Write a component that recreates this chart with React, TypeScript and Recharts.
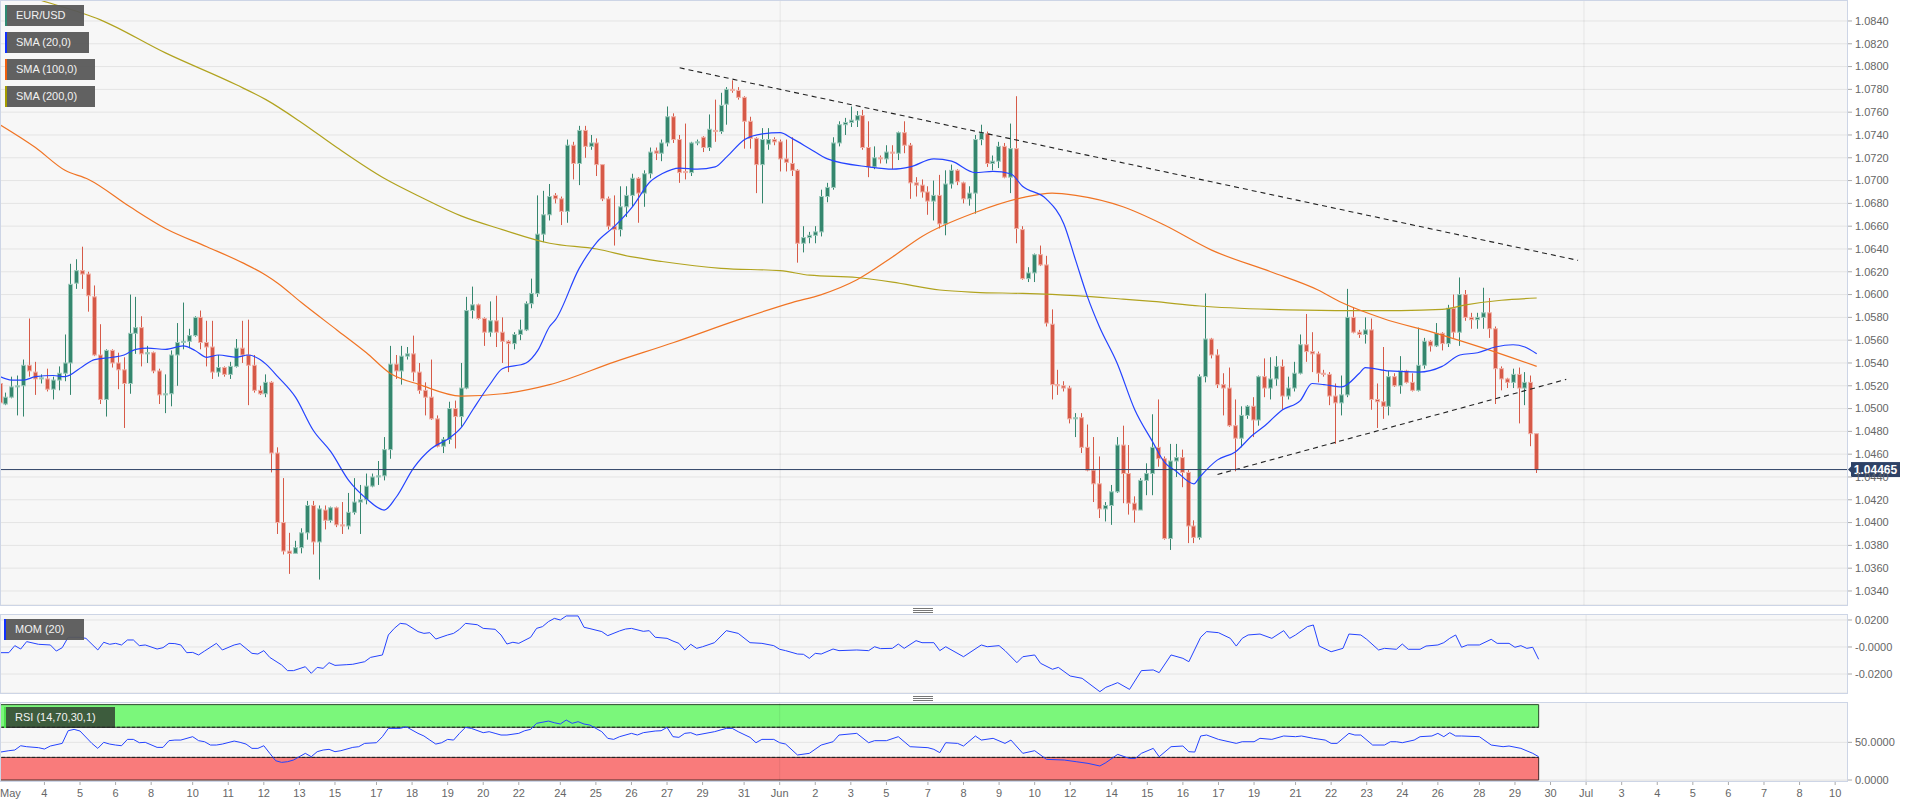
import React from "react";
import { ComposedChart, Bar, Line, XAxis, YAxis, CartesianGrid, ReferenceLine, ReferenceArea } from "recharts";

// EUR/USD 4h candles, May 3 - Jun 29
const opens = [
  1.0522, 1.0504, 1.0510, 1.0519, 1.0520, 1.0538, 1.0532, 1.0526, 1.0526, 1.0517,
  1.0525, 1.0531, 1.0540, 1.0610, 1.0621, 1.0618, 1.0598, 1.0547, 1.0508, 1.0551,
  1.0540, 1.0534, 1.0522, 1.0566, 1.0571, 1.0548, 1.0549, 1.0533, 1.0512, 1.0513,
  1.0547, 1.0558, 1.0559, 1.0564, 1.0580, 1.0558, 1.0554, 1.0532, 1.0536, 1.0530,
  1.0537, 1.0553, 1.0547, 1.0538, 1.0516, 1.0513, 1.0523, 1.0461, 1.0400, 1.0375,
  1.0373, 1.0378, 1.0391, 1.0415, 1.0383, 1.0411, 1.0402, 1.0413, 1.0398, 1.0397,
  1.0409, 1.0418, 1.0420, 1.0432, 1.0440, 1.0441, 1.0464, 1.0539, 1.0533, 1.0546,
  1.0548, 1.0532, 1.0516, 1.0510, 1.0491, 1.0467, 1.0473, 1.0500, 1.0493, 1.0518,
  1.0586, 1.0591, 1.0579, 1.0567, 1.0577, 1.0567, 1.0559, 1.0557, 1.0565, 1.0569,
  1.0592, 1.0601, 1.0653, 1.0670, 1.0687, 1.0684, 1.0673, 1.0731, 1.0715, 1.0744,
  1.0730, 1.0733, 1.0714, 1.0684, 1.0660, 1.0657, 1.0677, 1.0687, 1.0702, 1.0689,
  1.0706, 1.0726, 1.0724, 1.0733, 1.0756, 1.0736, 1.0708, 1.0707, 1.0733, 1.0738,
  1.0729, 1.0744, 1.0743, 1.0767, 1.0780, 1.0779, 1.0773, 1.0752, 1.0737, 1.0714,
  1.0732, 1.0736, 1.0734, 1.0719, 1.0715, 1.0709, 1.0645, 1.0650, 1.0652, 1.0655,
  1.0686, 1.0694, 1.0733, 1.0749, 1.0751, 1.0753, 1.0757, 1.0729, 1.0712, 1.0720,
  1.0719, 1.0725, 1.0724, 1.0742, 1.0731, 1.0698, 1.0696, 1.0690, 1.0682, 1.0687,
  1.0662, 1.0697, 1.0709, 1.0698, 1.0684, 1.0689, 1.0736, 1.0741, 1.0715, 1.0717,
  1.0730, 1.0703, 1.0728, 1.0657, 1.0614, 1.0619, 1.0635, 1.0626, 1.0574, 1.0521,
  1.0520, 1.0518, 1.0491, 1.0492, 1.0466, 1.0446, 1.0434, 1.0412, 1.0415, 1.0427,
  1.0468, 1.0443, 1.0417, 1.0411, 1.0437, 1.0443, 1.0466, 1.0456, 1.0386, 1.0454,
  1.0457, 1.0444, 1.0397, 1.0387, 1.0528, 1.0561, 1.0547, 1.0521, 1.0518, 1.0485,
  1.0474, 1.0494, 1.0502, 1.0490, 1.0528, 1.0518, 1.0526, 1.0537, 1.0511, 1.0518,
  1.0531, 1.0556, 1.0550, 1.0548, 1.0531, 1.0530, 1.0511, 1.0505, 1.0512, 1.0580,
  1.0567, 1.0565, 1.0569, 1.0508, 1.0506, 1.0502, 1.0528, 1.0520, 1.0533, 1.0523,
  1.0516, 1.0538, 1.0559, 1.0555, 1.0566, 1.0557, 1.0588, 1.0567, 1.0600, 1.0580,
  1.0578, 1.0580, 1.0584, 1.0570, 1.0535, 1.0526, 1.0523, 1.0530, 1.0518, 1.0523,
  1.0478,
];
const highs = [
  1.0526, 1.0514, 1.0528, 1.0529, 1.0543, 1.0579, 1.0541, 1.0530, 1.0535, 1.0528,
  1.0537, 1.0565, 1.0627, 1.0631, 1.0642, 1.0620, 1.0608, 1.0574, 1.0552, 1.0552,
  1.0549, 1.0545, 1.0600, 1.0598, 1.0581, 1.0555, 1.0550, 1.0535, 1.0530, 1.0551,
  1.0575, 1.0593, 1.0570, 1.0581, 1.0586, 1.0577, 1.0577, 1.0547, 1.0537, 1.0541,
  1.0561, 1.0577, 1.0578, 1.0547, 1.0520, 1.0530, 1.0524, 1.0466, 1.0439, 1.0391,
  1.0384, 1.0395, 1.0419, 1.0419, 1.0415, 1.0415, 1.0414, 1.0414, 1.0418, 1.0426,
  1.0439, 1.0433, 1.0443, 1.0443, 1.0454, 1.0475, 1.0555, 1.0547, 1.0555, 1.0554,
  1.0564, 1.0540, 1.0523, 1.0543, 1.0494, 1.0475, 1.0506, 1.0507, 1.0540, 1.0598,
  1.0607, 1.0592, 1.0580, 1.0594, 1.0599, 1.0580, 1.0560, 1.0567, 1.0578, 1.0594,
  1.0614, 1.0687, 1.0691, 1.0697, 1.0689, 1.0686, 1.0736, 1.0734, 1.0748, 1.0748,
  1.0740, 1.0737, 1.0714, 1.0686, 1.0687, 1.0695, 1.0695, 1.0706, 1.0703, 1.0709,
  1.0729, 1.0729, 1.0736, 1.0765, 1.0759, 1.0740, 1.0750, 1.0734, 1.0736, 1.0739,
  1.0758, 1.0771, 1.0777, 1.0782, 1.0788, 1.0782, 1.0774, 1.0756, 1.0738, 1.0746,
  1.0746, 1.0738, 1.0736, 1.0736, 1.0738, 1.0710, 1.0660, 1.0655, 1.0660, 1.0692,
  1.0698, 1.0738, 1.0752, 1.0755, 1.0765, 1.0761, 1.0762, 1.0752, 1.0730, 1.0722,
  1.0731, 1.0731, 1.0743, 1.0752, 1.0733, 1.0703, 1.0701, 1.0695, 1.0700, 1.0705,
  1.0709, 1.0714, 1.0710, 1.0699, 1.0695, 1.0740, 1.0749, 1.0743, 1.0722, 1.0734,
  1.0733, 1.0750, 1.0774, 1.0660, 1.0624, 1.0636, 1.0643, 1.0634, 1.0587, 1.0534,
  1.0524, 1.0520, 1.0496, 1.0496, 1.0486, 1.0475, 1.0458, 1.0418, 1.0433, 1.0475,
  1.0485, 1.0468, 1.0423, 1.0439, 1.0452, 1.0495, 1.0508, 1.0458, 1.0469, 1.0469,
  1.0464, 1.0446, 1.0402, 1.0530, 1.0601, 1.0562, 1.0552, 1.0531, 1.0536, 1.0508,
  1.0502, 1.0503, 1.0510, 1.0529, 1.0544, 1.0545, 1.0546, 1.0543, 1.0528, 1.0541,
  1.0565, 1.0583, 1.0567, 1.0550, 1.0534, 1.0532, 1.0522, 1.0529, 1.0605, 1.0589,
  1.0569, 1.0580, 1.0579, 1.0522, 1.0554, 1.0533, 1.0531, 1.0546, 1.0534, 1.0531,
  1.0571, 1.0562, 1.0560, 1.0575, 1.0567, 1.0591, 1.0600, 1.0615, 1.0604, 1.0584,
  1.0584, 1.0606, 1.0597, 1.0572, 1.0537, 1.0527, 1.0535, 1.0536, 1.0532, 1.0529,
  1.0478,
];
const lows = [
  1.0491, 1.0503, 1.0509, 1.0494, 1.0493, 1.0528, 1.0512, 1.0522, 1.0515, 1.0508,
  1.0516, 1.0524, 1.0512, 1.0605, 1.0605, 1.0585, 1.0546, 1.0504, 1.0493, 1.0536,
  1.0517, 1.0483, 1.0513, 1.0548, 1.0537, 1.0540, 1.0531, 1.0504, 1.0496, 1.0502,
  1.0520, 1.0552, 1.0553, 1.0563, 1.0552, 1.0537, 1.0526, 1.0528, 1.0528, 1.0526,
  1.0536, 1.0540, 1.0503, 1.0514, 1.0512, 1.0510, 1.0444, 1.0390, 1.0372, 1.0355,
  1.0373, 1.0373, 1.0385, 1.0372, 1.0350, 1.0394, 1.0400, 1.0396, 1.0390, 1.0394,
  1.0407, 1.0390, 1.0416, 1.0431, 1.0433, 1.0437, 1.0456, 1.0526, 1.0521, 1.0543,
  1.0524, 1.0513, 1.0494, 1.0490, 1.0466, 1.0461, 1.0469, 1.0465, 1.0484, 1.0517,
  1.0579, 1.0578, 1.0555, 1.0563, 1.0554, 1.0540, 1.0532, 1.0552, 1.0560, 1.0568,
  1.0588, 1.0598, 1.0646, 1.0665, 1.0680, 1.0661, 1.0663, 1.0701, 1.0696, 1.0720,
  1.0727, 1.0704, 1.0682, 1.0657, 1.0643, 1.0651, 1.0668, 1.0677, 1.0663, 1.0677,
  1.0702, 1.0718, 1.0717, 1.0730, 1.0733, 1.0698, 1.0701, 1.0704, 1.0731, 1.0725,
  1.0726, 1.0734, 1.0741, 1.0749, 1.0777, 1.0771, 1.0728, 1.0728, 1.0689, 1.0680,
  1.0727, 1.0731, 1.0708, 1.0708, 1.0704, 1.0628, 1.0637, 1.0645, 1.0645, 1.0651,
  1.0681, 1.0692, 1.0730, 1.0740, 1.0747, 1.0747, 1.0727, 1.0703, 1.0710, 1.0715,
  1.0715, 1.0710, 1.0718, 1.0724, 1.0684, 1.0686, 1.0685, 1.0670, 1.0665, 1.0658,
  1.0652, 1.0693, 1.0696, 1.0680, 1.0678, 1.0671, 1.0731, 1.0712, 1.0709, 1.0711,
  1.0702, 1.0689, 1.0645, 1.0613, 1.0611, 1.0611, 1.0625, 1.0572, 1.0508, 1.0512,
  1.0515, 1.0487, 1.0475, 1.0461, 1.0445, 1.0418, 1.0404, 1.0401, 1.0398, 1.0426,
  1.0417, 1.0407, 1.0400, 1.0411, 1.0424, 1.0424, 1.0449, 1.0385, 1.0376, 1.0440,
  1.0431, 1.0382, 1.0382, 1.0385, 1.0523, 1.0544, 1.0518, 1.0494, 1.0484, 1.0445,
  1.0466, 1.0491, 1.0475, 1.0485, 1.0510, 1.0508, 1.0520, 1.0499, 1.0508, 1.0515,
  1.0530, 1.0541, 1.0532, 1.0523, 1.0528, 1.0503, 1.0469, 1.0494, 1.0510, 1.0566,
  1.0562, 1.0557, 1.0499, 1.0483, 1.0491, 1.0494, 1.0519, 1.0513, 1.0522, 1.0515,
  1.0515, 1.0535, 1.0550, 1.0554, 1.0551, 1.0554, 1.0562, 1.0555, 1.0577, 1.0570,
  1.0570, 1.0570, 1.0562, 1.0504, 1.0516, 1.0518, 1.0518, 1.0487, 1.0503, 1.0467,
  1.04435,
];
const closes = [
  1.0505, 1.0510, 1.0519, 1.0520, 1.0538, 1.0533, 1.0526, 1.0527, 1.0517, 1.0525,
  1.0531, 1.0540, 1.0609, 1.0621, 1.0618, 1.0599, 1.0547, 1.0508, 1.0551, 1.0540,
  1.0534, 1.0522, 1.0566, 1.0571, 1.0548, 1.0549, 1.0533, 1.0512, 1.0513, 1.0547,
  1.0558, 1.0559, 1.0564, 1.0580, 1.0558, 1.0554, 1.0532, 1.0536, 1.0530, 1.0537,
  1.0553, 1.0547, 1.0538, 1.0516, 1.0513, 1.0523, 1.0461, 1.0400, 1.0375, 1.0373,
  1.0378, 1.0391, 1.0415, 1.0383, 1.0412, 1.0402, 1.0413, 1.0398, 1.0397, 1.0409,
  1.0418, 1.0420, 1.0432, 1.0440, 1.0441, 1.0464, 1.0539, 1.0533, 1.0546, 1.0548,
  1.0532, 1.0516, 1.0510, 1.0491, 1.0467, 1.0473, 1.0500, 1.0493, 1.0518, 1.0586,
  1.0591, 1.0579, 1.0567, 1.0577, 1.0567, 1.0559, 1.0557, 1.0565, 1.0569, 1.0592,
  1.0601, 1.0653, 1.0670, 1.0686, 1.0684, 1.0673, 1.0731, 1.0715, 1.0744, 1.0730,
  1.0733, 1.0714, 1.0684, 1.0660, 1.0657, 1.0677, 1.0687, 1.0702, 1.0689, 1.0706,
  1.0725, 1.0724, 1.0733, 1.0756, 1.0736, 1.0707, 1.0707, 1.0733, 1.0734, 1.0729,
  1.0745, 1.0743, 1.0766, 1.0780, 1.0779, 1.0773, 1.0752, 1.0737, 1.0714, 1.0736,
  1.0736, 1.0734, 1.0719, 1.0716, 1.0709, 1.0645, 1.0650, 1.0652, 1.0655, 1.0686,
  1.0694, 1.0733, 1.0749, 1.0751, 1.0753, 1.0757, 1.0729, 1.0712, 1.0720, 1.0719,
  1.0725, 1.0724, 1.0742, 1.0731, 1.0698, 1.0696, 1.0690, 1.0682, 1.0687, 1.0662,
  1.0697, 1.0709, 1.0699, 1.0684, 1.0689, 1.0736, 1.0742, 1.0715, 1.0717, 1.0730,
  1.0703, 1.0728, 1.0658, 1.0614, 1.0619, 1.0635, 1.0626, 1.0575, 1.0521, 1.0520,
  1.0518, 1.0491, 1.0492, 1.0466, 1.0446, 1.0434, 1.0412, 1.0415, 1.0427, 1.0468,
  1.0443, 1.0417, 1.0411, 1.0437, 1.0443, 1.0466, 1.0456, 1.0386, 1.0454, 1.0457,
  1.0444, 1.0397, 1.0387, 1.0528, 1.0561, 1.0547, 1.0521, 1.0518, 1.0485, 1.0474,
  1.0494, 1.0502, 1.0490, 1.0528, 1.0518, 1.0526, 1.0537, 1.0511, 1.0518, 1.0531,
  1.0556, 1.0550, 1.0548, 1.0531, 1.0530, 1.0511, 1.0505, 1.0512, 1.0580, 1.0567,
  1.0565, 1.0569, 1.0508, 1.0506, 1.0502, 1.0528, 1.0520, 1.0533, 1.0523, 1.0516,
  1.0538, 1.0559, 1.0555, 1.0566, 1.0557, 1.0588, 1.0567, 1.0600, 1.0580, 1.0578,
  1.0580, 1.0584, 1.0570, 1.0535, 1.0526, 1.0523, 1.0530, 1.0518, 1.0523, 1.0478,
  1.04465,
];

// moving averages: [candle index, value]
const sma20Pts = [
  [0, 1.0528], [2, 1.0525], [4, 1.0525], [6, 1.0528], [9, 1.0529], [11, 1.0528], [14, 1.0537], [16, 1.0543],
  [19, 1.0545], [21, 1.0547], [23, 1.0552], [25, 1.0553], [28, 1.0552], [31, 1.0555], [33, 1.0551], [35, 1.0545],
  [37, 1.0547], [40, 1.0545], [42, 1.0547], [44, 1.0543], [45, 1.0539], [47, 1.0528], [50, 1.0510], [53, 1.0481],
  [56, 1.0462], [59, 1.0437], [62, 1.0421], [65, 1.0411], [67, 1.0422], [70, 1.0448], [73, 1.0465], [76, 1.0474],
  [78, 1.0483], [80, 1.0499], [83, 1.0522], [85, 1.0535], [89, 1.0540], [91, 1.0551], [93, 1.0572], [94, 1.0578],
  [98, 1.0623], [101, 1.0646], [104, 1.0660], [107, 1.0677], [110, 1.0699], [112, 1.0706], [115, 1.0711], [118, 1.0710],
  [121, 1.0712], [123, 1.0721], [126, 1.0736], [129, 1.0741], [132, 1.0742], [134, 1.0737], [137, 1.0728], [140, 1.0719],
  [147, 1.0712], [151, 1.0710], [154, 1.0712], [158, 1.0719], [161, 1.0717], [165, 1.0707], [168, 1.0708], [171, 1.0706],
  [173, 1.0695], [177, 1.0684], [180, 1.0662], [182, 1.0630], [184, 1.0598], [186, 1.0572], [189, 1.0540], [192, 1.0499],
  [195, 1.0471], [197, 1.0453], [199, 1.0445], [202, 1.0434], [203, 1.0440], [206, 1.0455], [209, 1.0462], [212, 1.0477],
  [214, 1.0485], [217, 1.0499], [220, 1.0507], [222, 1.0522], [224, 1.0521], [227, 1.0519], [230, 1.0531], [231, 1.0536],
  [235, 1.0533], [240, 1.0532], [244, 1.0537], [247, 1.0547], [250, 1.0549], [253, 1.0554], [256, 1.0556], [258, 1.0554],
  [260, 1.0548],
];
const sma100Pts = [
  [0, 1.0749], [6, 1.0729], [11, 1.0709], [15, 1.0701], [22, 1.0677], [28, 1.0658], [35, 1.0642], [41, 1.0628],
  [45, 1.0617], [47, 1.0610], [51, 1.0593], [57, 1.0569], [62, 1.0549], [66, 1.0531], [71, 1.0521], [78, 1.0511],
  [85, 1.0513], [93, 1.0521], [104, 1.0541], [114, 1.0558], [125, 1.0578], [134, 1.0593], [139, 1.0600], [145, 1.0613],
  [151, 1.0633], [156, 1.0651], [165, 1.0672], [173, 1.0685], [178, 1.0689], [182, 1.0687], [190, 1.0677], [197, 1.0661],
  [205, 1.0639], [215, 1.0620], [223, 1.0604], [227, 1.0593], [234, 1.0579], [243, 1.0566], [251, 1.0553], [260, 1.0537],
];
const sma200Pts = [
  [0, 1.0869], [7, 1.0858], [17, 1.0841], [28, 1.0812], [40, 1.0784], [45, 1.0771], [51, 1.0751], [57, 1.0729],
  [65, 1.0702], [71, 1.0686], [78, 1.0669], [85, 1.0657], [93, 1.0645], [101, 1.0640], [107, 1.0633], [112, 1.0629],
  [122, 1.0623], [132, 1.0621], [137, 1.0617], [145, 1.0615], [151, 1.0611], [159, 1.0604], [165, 1.0602], [173, 1.0601],
  [182, 1.0599], [190, 1.0596], [195, 1.0594], [203, 1.0590], [215, 1.0587], [226, 1.0586], [237, 1.0586], [244, 1.0587],
  [248, 1.0591], [254, 1.0595], [260, 1.0597],
];

// MOM (20)
const momPts = [
  [0, -0.0042], [2, -0.0042], [3, 0.0010], [4, -0.0015], [5, 0.0040], [7, 0.0020], [9, 0.0015], [10, -0.0030],
  [11, -0.0005], [12, 0.0072], [14, 0.0072], [15, 0.0064], [17, -0.0022], [18, 0.0035], [19, 0.0020], [20, 0.0027],
  [21, 0.0015], [22, 0.0052], [23, 0.0052], [24, 0.0010], [25, 0.0015], [27, -0.0015], [28, -0.0005], [29, 0.0027],
  [30, 0.0025], [31, 0.0015], [32, -0.0042], [33, -0.0040], [34, -0.0059], [35, -0.0030], [37, 0.0027], [38, -0.0022],
  [40, 0.0015], [41, 0.0025], [43, -0.0047], [44, -0.0052], [45, -0.0027], [46, -0.0077], [48, -0.0133], [49, -0.0175],
  [50, -0.0175], [52, -0.0146], [53, -0.0195], [54, -0.0151], [55, -0.0158], [56, -0.0116], [57, -0.0136], [59, -0.0131],
  [60, -0.0128], [62, -0.0109], [63, -0.0077], [65, -0.0059], [66, 0.0089], [67, 0.0138], [68, 0.0175], [69, 0.0170],
  [71, 0.0114], [72, 0.0101], [73, 0.0106], [74, 0.0059], [76, 0.0089], [77, 0.0101], [78, 0.0131], [79, 0.0175],
  [81, 0.0165], [82, 0.0138], [84, 0.0131], [85, 0.0089], [86, 0.0022], [87, 0.0035], [88, 0.0027], [90, 0.0072],
  [91, 0.0138], [92, 0.0151], [93, 0.0188], [94, 0.0212], [95, 0.0200], [96, 0.0230], [98, 0.0230], [99, 0.0146],
  [100, 0.0136], [102, 0.0114], [103, 0.0084], [105, 0.0119], [106, 0.0133], [107, 0.0138], [109, 0.0116], [110, 0.0121],
  [111, 0.0072], [113, 0.0064], [114, 0.0044], [115, 0.0027], [116, -0.0022], [117, 0.0020], [118, -0.0010], [119, 0.0002],
  [121, 0.0032], [123, 0.0121], [125, 0.0101], [127, 0.0032], [129, 0.0027], [131, 0.0010], [132, -0.0017], [133, -0.0027],
  [135, -0.0052], [136, -0.0054], [137, -0.0084], [138, -0.0047], [139, -0.0052], [141, -0.0015], [142, -0.0027], [145, -0.0022],
  [147, -0.0027], [148, 0.0002], [149, -0.0012], [151, -0.0010], [152, 0.0022], [153, -0.0010], [155, 0.0047], [156, 0.0032],
  [158, 0.0032], [159, -0.0027], [160, 0.0002], [163, -0.0072], [166, 0.0015], [167, 0.0002], [169, 0.0010], [170, -0.0027],
  [172, -0.0116], [173, -0.0072], [175, -0.0059], [176, -0.0121], [178, -0.0165], [179, -0.0151], [181, -0.0215], [183, -0.0232],
  [186, -0.0331], [187, -0.0299], [188, -0.0282], [189, -0.0264], [191, -0.0314], [193, -0.0175], [195, -0.0170], [196, -0.0190],
  [198, -0.0059], [200, -0.0084], [201, -0.0109], [203, 0.0072], [204, 0.0114], [206, 0.0106], [208, 0.0064], [209, 0.0007],
  [210, 0.0064], [211, 0.0089], [213, 0.0096], [215, 0.0064], [217, 0.0121], [218, 0.0064], [219, 0.0089], [221, 0.0151],
  [222, 0.0163], [223, 0.0007], [225, -0.0035], [227, -0.0010], [228, 0.0096], [230, 0.0089], [231, 0.0057], [233, -0.0022],
  [234, -0.0010], [236, -0.0017], [237, 0.0022], [238, -0.0017], [240, -0.0017], [241, 0.0007], [243, 0.0015], [244, 0.0032],
  [245, 0.0064], [246, 0.0089], [247, -0.0002], [248, 0.0015], [250, 0.0015], [252, 0.0057], [253, 0.0027], [255, 0.0027],
  [256, -0.0002], [257, 0.0010], [258, -0.0010], [259, -0.0002], [260, -0.0091],
];

// RSI (14,70,30,1)
const rsiPts = [
  [0, 36.3], [2, 38.9], [3, 39.8], [4, 45.5], [5, 44.2], [7, 42.9], [8, 41.1], [9, 45.1], [11, 48.6], [12, 65.4],
  [13, 67.2], [14, 65.0], [16, 48.6], [17, 42.0], [18, 50.0], [19, 47.7], [20, 46.4], [21, 45.5], [22, 53.9], [23, 53.9],
  [24, 49.5], [25, 50.0], [27, 43.3], [28, 43.3], [29, 52.2], [30, 53.0], [31, 53.0], [33, 57.5], [34, 52.2], [35, 50.8],
  [36, 46.4], [37, 46.4], [38, 47.7], [40, 51.7], [41, 50.0], [42, 47.7], [43, 42.0], [44, 42.0], [45, 45.5], [46, 35.4],
  [47, 25.6], [48, 23.4], [49, 24.3], [50, 26.5], [52, 35.4], [53, 30.9], [54, 37.6], [55, 39.8], [56, 40.7], [57, 37.6],
  [58, 38.9], [60, 43.3], [61, 44.2], [62, 48.6], [64, 49.5], [65, 57.5], [66, 68.5], [68, 68.5], [69, 70.7], [71, 61.9],
  [72, 58.4], [73, 53.0], [74, 47.7], [75, 49.5], [76, 53.9], [77, 53.0], [78, 61.9], [79, 69.8], [80, 68.5], [82, 62.8],
  [83, 64.1], [84, 61.9], [85, 59.7], [86, 59.7], [88, 61.9], [89, 65.4], [90, 67.2], [91, 75.2], [93, 78.2], [94, 76.0],
  [95, 74.3], [96, 79.6], [97, 75.2], [98, 77.4], [99, 74.3], [100, 72.9], [102, 64.1], [103, 55.3], [104, 53.9], [105, 57.5],
  [107, 61.9], [108, 59.7], [109, 62.8], [111, 65.0], [112, 65.4], [113, 69.8], [114, 57.5], [115, 56.6], [116, 61.9], [117, 62.8],
  [118, 59.7], [121, 64.1], [123, 68.5], [124, 68.5], [125, 64.1], [127, 56.6], [128, 49.5], [129, 53.9], [131, 53.9], [132, 49.5],
  [133, 47.7], [135, 33.2], [137, 35.4], [139, 46.4], [141, 50.8], [142, 59.7], [145, 61.9], [147, 49.5], [148, 52.2], [150, 52.2],
  [152, 57.5], [154, 44.2], [157, 42.9], [158, 40.7], [159, 36.3], [160, 49.5], [162, 48.6], [163, 45.1], [165, 58.4], [166, 53.0],
  [168, 55.3], [170, 48.6], [171, 53.0], [173, 35.4], [175, 38.9], [177, 27.4], [180, 26.5], [182, 24.3], [184, 22.1], [186, 18.6],
  [187, 23.0], [189, 34.0], [191, 28.7], [192, 28.7], [193, 35.4], [195, 42.0], [196, 30.9], [198, 44.2], [200, 45.1], [201, 37.6],
  [202, 37.1], [203, 58.4], [204, 59.7], [206, 53.9], [209, 48.6], [210, 50.8], [212, 50.8], [213, 55.3], [215, 53.9], [217, 58.4],
  [219, 57.5], [220, 58.4], [222, 55.3], [224, 53.0], [225, 48.6], [226, 48.6], [228, 61.9], [229, 59.7], [230, 59.7], [232, 46.4],
  [234, 46.4], [235, 50.8], [236, 50.8], [237, 49.5], [239, 53.0], [240, 57.5], [242, 58.4], [243, 61.9], [244, 57.5], [245, 62.8],
  [246, 58.4], [247, 58.4], [250, 57.5], [252, 46.4], [254, 44.2], [255, 45.1], [257, 42.0], [259, 35.4], [260, 30.9],
];
const rsiBandEnd = 260;

// x-axis day labels, placed on candle slots
const xTickIdx = [
  0, 8, 14, 20, 26, 33, 39, 45, 51, 57, 64, 70, 76, 82, 88, 95, 101, 107, 113, 119, 126,
  132, 138, 144, 150, 157, 163, 169, 175, 181, 188, 194, 200, 206, 212, 219, 225, 231, 237, 243, 250, 256, 262,
  268, 274, 280, 286, 292, 298, 304, 310,
];
const xTickLabels = [
  "May", "4", "5", "6", "8", "10", "11", "12", "13", "15", "17", "18", "19", "20", "22", "24", "25", "26", "27", "29", "31",
  "Jun", "2", "3", "5", "7", "8", "9", "10", "12", "14", "15", "16", "17", "19", "21", "22", "23", "24", "26", "28", "29", "30",
  "Jul", "3", "4", "5", "6", "7", "8", "10",
];
const monthLines = [132, 268];

const priceTicks = [
  1.084, 1.082, 1.08, 1.078, 1.076, 1.074, 1.072, 1.07, 1.068, 1.066, 1.064, 1.062, 1.06,
  1.058, 1.056, 1.054, 1.052, 1.05, 1.048, 1.046, 1.044, 1.042, 1.04, 1.038, 1.036, 1.034,
];
const momTicks = [0.02, 0, -0.02];
const momTickLabels = ["0.0200", "-0.0000", "-0.0200"];
const rsiTicks = [0, 50];
const rsiTickLabels = ["0.0000", "50.0000"];

const lastPrice = 1.04465;
const trendDown = [[115, 1.07989], [267, 1.063]];
const trendUp = [[206, 1.04422], [265, 1.05256]];

const SLOTS = 313;
const UP = "#35866e";
const DOWN = "#d65a48";
const NAVY = "#2e4266";
const GRID = "#e4e4e4";
const BORDER = "#cdd5e6";
const PLOT_BG = "#f7f7f7";

const rows: any[] = Array.from({ length: SLOTS }, (_, i) => {
  const has = i < closes.length;
  return {
    i,
    o: has ? opens[i] : null,
    h: has ? highs[i] : null,
    l: has ? lows[i] : null,
    c: has ? closes[i] : null,
    hl: has ? [lows[i], highs[i]] : null,
  };
});
const put = (pts: number[][], key: string) => pts.forEach(([k, v]) => { rows[k][key] = v; });
put(sma20Pts, "sma20");
put(sma100Pts, "sma100");
put(sma200Pts, "sma200");
put(momPts, "mom");
put(rsiPts, "rsi");

const Candle = (props: any) => {
  const { x, y, width, height } = props;
  const d = props.payload ?? props;
  if (!d || d.o == null || !isFinite(y) || !isFinite(height)) return <g />;
  const top = Math.min(y, y + height);
  const bot = Math.max(y, y + height);
  const span = d.h - d.l;
  const py = (v: number) => (span > 0 ? top + ((d.h - v) / span) * (bot - top) : top);
  const up = d.c >= d.o;
  const col = up ? UP : DOWN;
  const edge = up ? "#9fcbbd" : "#f0b2a8";
  const cx = Math.round(x + width / 2) + 0.5;
  const bTop = py(Math.max(d.o, d.c));
  const bBot = py(Math.min(d.o, d.c));
  return (
    <g>
      <line x1={cx} x2={cx} y1={top} y2={bot} stroke={col} strokeWidth={1} />
      <rect x={cx - 2} y={bTop} width={4} height={Math.max(1, bBot - bTop)} fill={col} stroke={edge} strokeWidth={1} />
    </g>
  );
};

const PriceTag = (props: any) => {
  const vb = props.viewBox || {};
  const x = vb.x + vb.width;
  const y = vb.y;
  return (
    <g>
      <polygon points={`${x + 1},${y} ${x + 5},${y - 4} ${x + 5},${y + 4}`} fill={NAVY} />
      <rect x={x + 4} y={y - 7.5} width={49} height={15} fill={NAVY} />
      <text x={x + 28.5} y={y + 4.5} textAnchor="middle" fill="#fff" fontSize={12} fontWeight="bold">
        {lastPrice.toFixed(5)}
      </text>
    </g>
  );
};

const DayTick = (props: any) => {
  const { x, y, payload } = props;
  const k = xTickIdx.indexOf(payload.value);
  if (k < 0) return <g />;
  const first = k === 0;
  return (
    <g>
      <line x1={x} x2={x} y1={y} y2={y + 4} stroke="#aaa" />
      <text x={first ? x + 3 : x} y={y + 16} textAnchor={first ? "start" : "middle"} fill="#666" fontSize={11}>
        {xTickLabels[k]}
      </text>
    </g>
  );
};

const Tag = ({ top, left, width, label, stripe, bg }: any) => (
  <div
    style={{
      position: "absolute", top, left, width, height: 21, background: bg || "rgba(88,88,88,0.95)",
      borderLeft: `2px solid ${stripe}`, boxSizing: "border-box", color: "#f2f2f2", fontSize: 11,
      lineHeight: "21px", paddingLeft: 9, whiteSpace: "nowrap", zIndex: 5,
    }}
  >
    {label}
  </div>
);

const Handle = ({ top }: { top: number }) => (
  <div style={{ position: "absolute", left: 913, top, width: 20, height: 5, zIndex: 5 }}>
    {[0, 2, 4].map((d) => (
      <div key={d} style={{ position: "absolute", left: 0, top: d, width: 20, height: 1, background: "#777" }} />
    ))}
  </div>
);

const CHART_W = 1921;
const AXIS_W = 71;
const yTick = { fill: "#666", fontSize: 11 };

const App: React.FC = () => {
  const pane = (top: number, height: number) => (
    <>
      <div style={{ position: "absolute", left: 0, top, width: 1847, height, background: PLOT_BG }} />
      <div style={{ position: "absolute", left: 0, top, width: 1848, height: height + 1, border: `1px solid ${BORDER}`, boxSizing: "border-box", zIndex: 4 }} />
    </>
  );

  return (
    <div
      style={{
        position: "absolute", left: 0, top: 0, width: 1918, height: 807, overflow: "hidden",
        background: "#fff", fontFamily: "'Liberation Sans', Arial, sans-serif",
      }}
    >
      {pane(0, 605)}
      {pane(614, 79)}
      {pane(702, 79)}
      <Handle top={608} />
      <Handle top={696} />

      {/* price pane */}
      <div style={{ position: "absolute", left: -3, top: 0, zIndex: 2 }}>
        <ComposedChart width={CHART_W} height={605} data={rows} margin={{ top: 0, right: 0, bottom: 0, left: 0 }}>
          <CartesianGrid vertical={false} stroke={GRID} />
          <XAxis dataKey="i" hide />
          <YAxis
            orientation="right" width={AXIS_W} domain={[1.03277, 1.08584]} ticks={priceTicks} allowDataOverflow
            interval={0} axisLine={false} tickLine={{ stroke: "#aaa" }} tickSize={5} tickMargin={3} tick={yTick}
            tickFormatter={(v: number) => v.toFixed(4)}
          />
          {monthLines.map((m) => (
            <ReferenceLine key={m} x={m} stroke="#000" strokeOpacity={0.07} />
          ))}
          <Bar dataKey="hl" barSize={5} shape={(p: any) => <Candle {...p} />} isAnimationActive={false} />
          <Line dataKey="sma200" type="monotone" stroke="#b1a31f" strokeWidth={1.2} dot={false} activeDot={false} connectNulls isAnimationActive={false} />
          <Line dataKey="sma100" type="monotone" stroke="#f07424" strokeWidth={1.2} dot={false} activeDot={false} connectNulls isAnimationActive={false} />
          <Line dataKey="sma20" type="monotone" stroke="#2443ff" strokeWidth={1.2} dot={false} activeDot={false} connectNulls isAnimationActive={false} />
          <ReferenceLine
            segment={[{ x: trendDown[0][0], y: trendDown[0][1] }, { x: trendDown[1][0], y: trendDown[1][1] }]}
            stroke="#222" strokeDasharray="5 4" strokeWidth={1.1} ifOverflow="visible"
          />
          <ReferenceLine
            segment={[{ x: trendUp[0][0], y: trendUp[0][1] }, { x: trendUp[1][0], y: trendUp[1][1] }]}
            stroke="#222" strokeDasharray="5 4" strokeWidth={1.1} ifOverflow="visible"
          />
          <ReferenceLine y={lastPrice} stroke={NAVY} strokeWidth={1} label={PriceTag} />
        </ComposedChart>
      </div>

      {/* momentum pane */}
      <div style={{ position: "absolute", left: -3, top: 614, zIndex: 2 }}>
        <ComposedChart width={CHART_W} height={79} data={rows} margin={{ top: 0, right: 0, bottom: 0, left: 0 }}>
          <CartesianGrid vertical={false} stroke={GRID} />
          <XAxis dataKey="i" hide />
          <YAxis
            orientation="right" width={AXIS_W} domain={[-0.03407, 0.02444]} ticks={momTicks} allowDataOverflow
            interval={0} axisLine={false} tickLine={{ stroke: "#aaa" }} tickSize={5} tickMargin={3} tick={yTick}
            tickFormatter={(v: number) => momTickLabels[momTicks.indexOf(v)] ?? ""}
          />
          {monthLines.map((m) => (
            <ReferenceLine key={m} x={m} stroke="#000" strokeOpacity={0.07} />
          ))}
          <Line dataKey="mom" type="linear" stroke="#2443ff" strokeWidth={1} dot={false} activeDot={false} connectNulls isAnimationActive={false} />
        </ComposedChart>
      </div>

      {/* RSI pane */}
      <div style={{ position: "absolute", left: -3, top: 702, zIndex: 2 }}>
        <ComposedChart width={CHART_W} height={105} data={rows} margin={{ top: 0, right: 0, bottom: 0, left: 0 }}>
          <CartesianGrid vertical={false} stroke={GRID} />
          <XAxis
            dataKey="i" height={26} interval={0} axisLine={false} tickLine={false} tickSize={0} tickMargin={0}
            tick={(p: any) => <DayTick {...p} />}
          />
          <YAxis
            orientation="right" width={AXIS_W} domain={[-1.3, 103.5]} ticks={rsiTicks} allowDataOverflow
            interval={0} axisLine={false} tickLine={{ stroke: "#aaa" }} tickSize={5} tickMargin={3} tick={yTick}
            tickFormatter={(v: number) => rsiTickLabels[rsiTicks.indexOf(v)] ?? ""}
          />
          <ReferenceArea x1={0} x2={rsiBandEnd} y1={70} y2={100} fill="#7bf77b" fillOpacity={1} stroke="#2a4a2a" strokeWidth={1} />
          <ReferenceArea x1={0} x2={rsiBandEnd} y1={0} y2={30} fill="#f97b7b" fillOpacity={1} stroke="#4a2a2a" strokeWidth={1} />
          {monthLines.map((m) => (
            <ReferenceLine key={m} x={m} stroke="#000" strokeOpacity={0.07} />
          ))}
          <ReferenceLine segment={[{ x: 0, y: 70 }, { x: rsiBandEnd, y: 70 }]} stroke="#222" strokeDasharray="3 2" ifOverflow="visible" />
          <ReferenceLine segment={[{ x: 0, y: 30 }, { x: rsiBandEnd, y: 30 }]} stroke="#222" strokeDasharray="3 2" ifOverflow="visible" />
          <Line dataKey="rsi" type="linear" stroke="#2443ff" strokeWidth={1} dot={false} activeDot={false} connectNulls isAnimationActive={false} />
        </ComposedChart>
      </div>

      <Tag top={5} left={5} width={79} label="EUR/USD" stripe="#2f8a72" />
      <Tag top={32} left={5} width={84} label="SMA (20,0)" stripe="#1030ff" />
      <Tag top={59} left={5} width={90} label="SMA (100,0)" stripe="#f0600f" />
      <Tag top={86} left={5} width={90} label="SMA (200,0)" stripe="#a59c00" />
      <Tag top={619} left={4} width={80} label="MOM (20)" stripe="#1030ff" />
      <Tag top={707} left={4} width={111} label="RSI (14,70,30,1)" stripe="#4fe04f" bg="rgba(40,40,40,0.75)" />
    </div>
  );
};

export default App;
